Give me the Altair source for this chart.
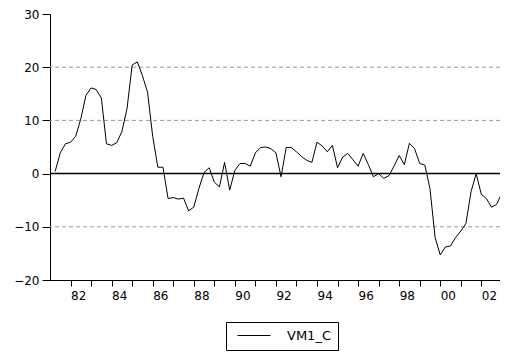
import altair as alt
import pandas as pd

# Quarterly series, 1981Q2 .. 2003Q2
start_year = 1981.25
series_name = "VM1_C"
values = [
    0.4, 3.9, 5.6, 5.9, 7.0, 10.3, 14.7, 16.1, 15.8, 14.2,
    5.6, 5.3, 5.8, 7.9, 12.2, 20.4, 21.0, 18.4, 15.3, 7.0,
    1.2, 1.2, -4.7, -4.5, -4.8, -4.6, -7.0, -6.3, -2.8, 0.2,
    1.1, -1.6, -2.5, 2.1, -3.1, 0.6, 1.9, 1.9, 1.4, 3.9,
    4.9, 5.0, 4.7, 3.9, -0.6, 4.9, 4.9, 4.1, 3.2, 2.5,
    2.1, 5.9, 5.2, 4.1, 5.3, 1.1, 3.1, 3.8, 2.6, 1.4,
    3.8, 1.7, -0.6, 0.0, -0.9, -0.4, 1.4, 3.4, 1.7, 5.7,
    4.7, 1.9, 1.6, -2.8, -12.0, -15.3, -13.8, -13.6, -12.0, -10.8,
    -9.4, -3.4, 0.0, -3.9, -4.7, -6.3, -5.8, -3.6, -2.1,
]
times = [start_year + 0.25 * i for i in range(len(values))]

x_ticks = list(range(1982, 2003))
y_ticks = [-20, -10, 0, 10, 20, 30]
grid_levels = [-10, 10, 20]
zero_level = [0]

df = pd.DataFrame({"t": times, "v": values, "series": series_name})
df_grid = pd.DataFrame({"y": grid_levels})
df_zero = pd.DataFrame({"y": zero_level})

FONT = "DejaVu Sans"
yscale = alt.Scale(domain=[-20, 30], nice=False, zero=False)
xscale = alt.Scale(domain=[1981.0, 2002.91], nice=False, zero=False)

yaxis = alt.Axis(
    title=None, values=y_ticks, grid=False, tickSize=8, tickColor="black",
    domainColor="black", labelColor="black", labelFont=FONT, labelFontSize=12,
    labelPadding=3,
)

grid = alt.Chart(df_grid).mark_rule(color="#9a9a9a", strokeDash=[4, 3], strokeWidth=1).encode(
    y=alt.Y("y:Q", scale=yscale, axis=yaxis)
)
zero = alt.Chart(df_zero).mark_rule(color="black", strokeWidth=1.5).encode(
    y=alt.Y("y:Q", scale=yscale, axis=yaxis)
)

label_expr = (
    "datum.value % 2 == 0 ? (datum.value % 100 < 10 ? '0' + (datum.value % 100) : '' + (datum.value % 100)) : ''"
)

line = alt.Chart(df).mark_line(strokeWidth=1, clip=True).encode(
    x=alt.X(
        "t:Q",
        scale=xscale,
        axis=alt.Axis(
            title=None, values=x_ticks, labelExpr=label_expr, grid=False,
            tickSize=6, tickColor="black", domainColor="black", labelColor="black",
            labelFont=FONT, labelFontSize=12, labelAlign="left", labelPadding=4,
            labelOverlap=False, labelBound=False, labelFlush=False,
        ),
    ),
    y=alt.Y("v:Q", scale=yscale, axis=yaxis),
    color=alt.Color(
        "series:N",
        scale=alt.Scale(range=["black"]),
        legend=alt.Legend(
            title=None, orient="none", legendX=176, legendY=308,
            symbolType="M-4.125,0H4.125", symbolSize=64, symbolStrokeWidth=1,
            symbolOffset=14.5,
            strokeColor="black", fillColor="white", padding=7,
            labelFont=FONT, labelFontSize=13, labelColor="black", labelOffset=26.5,
        ),
    ),
)

chart = (
    alt.layer(grid, zero, line)
    .resolve_axis(y="shared")
    .properties(
        width=450,
        height=266,
        autosize=alt.AutoSizeParams(type="none"),
        padding={"left": 42, "top": 6, "right": 0, "bottom": 72},
        background="white",
    )
    .configure_view(stroke=None)
)

chart.save("out.html", embed_options={"renderer": "svg", "actions": False})
